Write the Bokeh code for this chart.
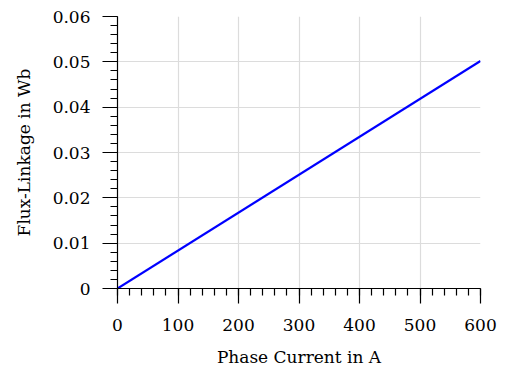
from bokeh.plotting import figure
from bokeh.models import FixedTicker, Range1d
from bokeh.embed import file_html
from bokeh.resources import INLINE

# data
phase_current = [0, 600]
flux_linkage = [0.0, 0.0502]

x_ticks = [0, 100, 200, 300, 400, 500, 600]
x_labels = ["0", "100", "200", "300", "400", "500", "600"]
x_minor = list(range(0, 601, 20))
y_ticks = [0.0, 0.01, 0.02, 0.03, 0.04, 0.05, 0.06]
y_labels = ["0", "0.01", "0.02", "0.03", "0.04", "0.05", "0.06"]
y_minor = [i * 0.002 for i in range(31)]

FONT = "DejaVu Serif"

p = figure(output_backend="svg", toolbar_location=None,
           frame_width=363, frame_height=272,
           min_border_left=117, min_border_top=16,
           min_border_right=19, min_border_bottom=77,
           x_range=Range1d(0, 600), y_range=Range1d(0, 0.06))
p.outline_line_color = None
p.background_fill_color = "white"
p.border_fill_color = "white"

p.line(phase_current, flux_linkage, line_color="#0000ff", line_width=2.2)

p.xaxis.ticker = FixedTicker(ticks=x_ticks, minor_ticks=x_minor)
p.yaxis.ticker = FixedTicker(ticks=y_ticks, minor_ticks=y_minor)
p.xaxis.major_label_overrides = {t: l for t, l in zip(x_ticks, x_labels)}
p.yaxis.major_label_overrides = {t: l for t, l in zip(y_ticks, y_labels)}

for ax in (p.xaxis, p.yaxis):
    ax.axis_line_color = "black"
    ax.axis_line_width = 1.2
    ax.major_tick_out = 15
    ax.major_tick_in = 0
    ax.minor_tick_out = 7
    ax.minor_tick_in = 0
    ax.major_tick_line_color = "black"
    ax.minor_tick_line_color = "black"
    ax.major_tick_line_width = 1.2
    ax.minor_tick_line_width = 1.2
    ax.major_label_text_font = FONT
    ax.major_label_text_font_size = "17px"
    ax.major_label_text_color = "black"
    ax.axis_label_text_font = FONT
    ax.axis_label_text_font_size = "17px"
    ax.axis_label_text_font_style = "normal"
    ax.axis_label_text_color = "black"

p.xaxis.axis_label = "Phase Current in A"
p.yaxis.axis_label = "Flux-Linkage in Wb"
p.xaxis.major_label_standoff = 15
p.yaxis.major_label_standoff = 12
p.xaxis.axis_label_standoff = 13
p.yaxis.axis_label_standoff = 16

p.grid.grid_line_color = "#dcdcdc"
p.grid.grid_line_width = 1.2
p.xgrid.ticker = FixedTicker(ticks=x_ticks)
p.ygrid.ticker = FixedTicker(ticks=y_ticks)

open("out.html", "w").write(file_html(p, INLINE))
